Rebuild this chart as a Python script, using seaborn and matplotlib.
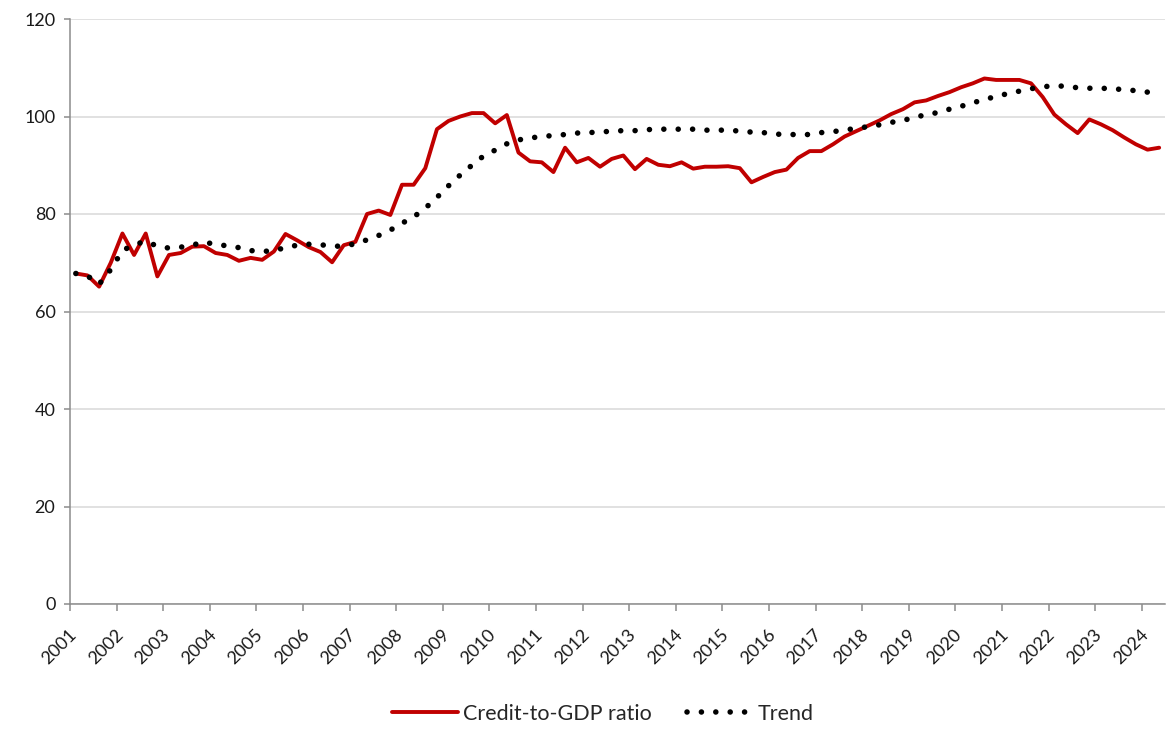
import pandas as pd
import seaborn as sns
import matplotlib.pyplot as plt
from matplotlib.transforms import ScaledTranslation

# ------------------------------
# Data (quarterly, 2001Q1 - 2024Q2)
# ------------------------------
credit_to_gdp = [
    67.8, 67.4, 65.1, 70.0, 76.0, 71.6, 76.0, 67.2,      # 2001-2002
    71.6, 72.0, 73.3, 73.4, 72.0, 71.6, 70.4, 71.0,      # 2003-2004
    70.6, 72.3, 75.9, 74.6, 73.2, 72.2, 70.1, 73.6,      # 2005-2006
    74.3, 80.0, 80.7, 79.8, 86.0, 86.0, 89.4, 97.4,      # 2007-2008
    99.1, 100.0, 100.7, 100.7, 98.6, 100.3, 92.6, 90.8,  # 2009-2010
    90.6, 88.6, 93.6, 90.6, 91.5, 89.7, 91.3, 92.0,      # 2011-2012
    89.2, 91.3, 90.1, 89.8, 90.6, 89.3, 89.7, 89.7,      # 2013-2014
    89.8, 89.4, 86.5, 87.6, 88.6, 89.1, 91.5, 92.9,      # 2015-2016
    92.9, 94.3, 95.9, 97.0, 98.1, 99.2, 100.5, 101.5,    # 2017-2018
    102.9, 103.3, 104.2, 105.0, 106.0, 106.8, 107.8, 107.5,  # 2019-2020
    107.5, 107.5, 106.8, 104.0, 100.4, 98.4, 96.6, 99.4,     # 2021-2022
    98.4, 97.2, 95.7, 94.3, 93.2, 93.6,                      # 2023-2024
]

trend = [
    67.8, 67.3, 65.6, 68.6, 72.5, 73.7, 74.4, 73.4,      # 2001-2002
    73.0, 73.2, 73.6, 74.3, 73.7, 73.5, 73.1, 72.5,      # 2003-2004
    72.3, 72.5, 73.1, 73.6, 73.8, 73.7, 73.4, 73.4,      # 2005-2006
    73.9, 74.7, 75.6, 76.7, 78.1, 79.4, 81.2, 83.4,      # 2007-2008
    85.8, 88.0, 90.0, 91.9, 93.1, 94.4, 95.2, 95.6,      # 2009-2010
    95.9, 96.1, 96.3, 96.6, 96.7, 96.8, 97.0, 97.1,      # 2011-2012
    97.1, 97.3, 97.4, 97.4, 97.4, 97.4, 97.2, 97.2,      # 2013-2014
    97.2, 97.0, 96.8, 96.7, 96.4, 96.3, 96.3, 96.3,      # 2015-2016
    96.7, 96.9, 97.2, 97.6, 97.9, 98.3, 98.8, 99.2,      # 2017-2018
    99.8, 100.4, 100.8, 101.5, 102.1, 102.8, 103.5, 104.1,   # 2019-2020
    104.7, 105.2, 105.7, 106.1, 106.3, 106.2, 105.9, 105.8,  # 2021-2022
    105.8, 105.7, 105.5, 105.3, 105.0, 104.8,                # 2023-2024
]

quarters = pd.period_range("2001Q1", "2024Q2", freq="Q")
year_labels = list(range(2001, 2025))

# each quarter sits in the middle of its category slot (Excel style)
df = pd.DataFrame({
    "pos": quarters.year + (quarters.quarter - 0.5) / 4,
    "credit": credit_to_gdp,
    "trend": trend,
})

# ------------------------------
# Style
# ------------------------------
sns.set_style("white")
plt.rcParams['font.family'] = ['Lato', 'DejaVu Sans']
plt.rcParams['font.size'] = 13

fig = plt.figure(figsize=(11.66, 7.29), dpi=100)
ax = fig.add_axes([70 / 1166, 1 - 604 / 729, 1095 / 1166, 585 / 729])

sns.lineplot(data=df, x="pos", y="credit", ax=ax, color="#C00000",
             linewidth=2.8, label="Credit-to-GDP ratio", zorder=3)
sns.lineplot(data=df, x="pos", y="trend", ax=ax, color="black",
             linewidth=4.0, label="Trend", zorder=4)
trend_line = ax.get_lines()[1]
trend_line.set_linestyle((0, (0.01, 2.58)))
trend_line.set_dash_capstyle("round")

ax.set_xlim(2001, 2024.5)
ax.set_ylim(0, 120)
ax.set_yticks(range(0, 121, 20))
ax.set_xticks(year_labels)
ax.set_xticklabels([str(y) for y in year_labels], rotation=45,
                   ha="right", va="center", rotation_mode="anchor")
ax.set_xlabel("")
ax.set_ylabel("")

ax.grid(axis="y", color="#d9d9d9", linewidth=1.1)
ax.grid(axis="x", visible=False)
ax.set_axisbelow(True)

for side in ["top", "right"]:
    ax.spines[side].set_visible(False)
for side in ["left", "bottom"]:
    ax.spines[side].set_color("#8c8c8c")
    ax.spines[side].set_linewidth(1.1)

ax.tick_params(axis="y", direction="out", length=4.5, width=1.1,
               color="#8c8c8c", pad=6, labelsize=13, labelcolor="#1a1a1a", left=True)
ax.tick_params(axis="x", direction="out", length=5, width=1.1,
               color="#8c8c8c", pad=15, labelsize=13, labelcolor="#1a1a1a", bottom=True)
for lab in ax.get_xticklabels():
    lab.set_transform(lab.get_transform() + ScaledTranslation(0.04, 0, fig.dpi_scale_trans))

ax.get_legend().remove()
handles, labels = ax.get_legend_handles_labels()
fig.legend(handles, labels, loc="center", bbox_to_anchor=(603 / 1166, 1 - 714 / 729),
           ncol=2, frameon=False, fontsize=15.5, handlelength=3.05,
           handletextpad=0.25, columnspacing=1.6)

plt.savefig("out.png", dpi=100)
